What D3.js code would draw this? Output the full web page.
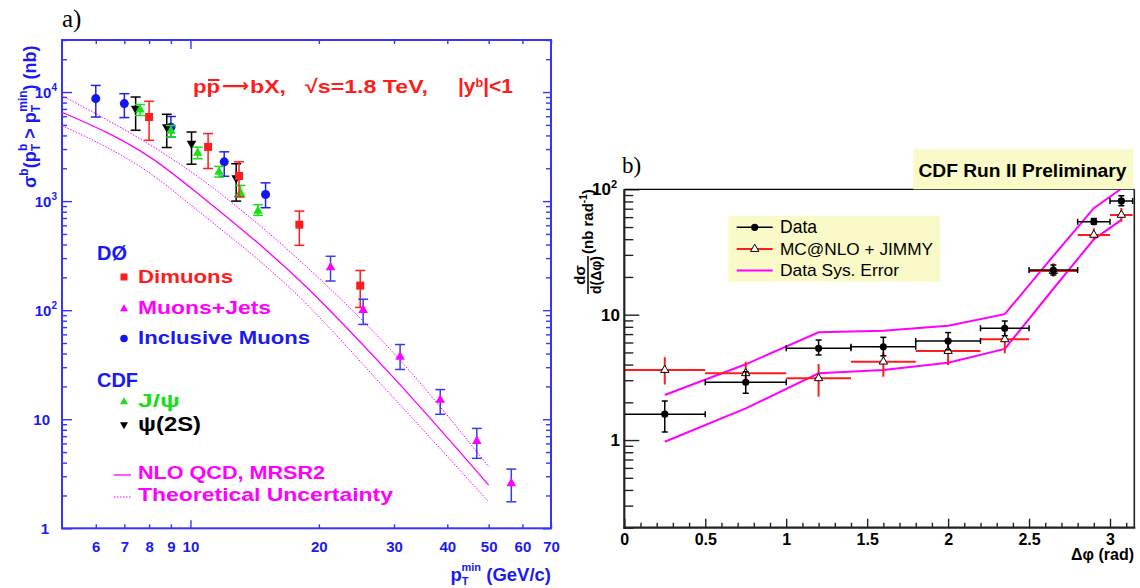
<!DOCTYPE html>
<html>
<head>
<meta charset="utf-8">
<script src="https://cdn.jsdelivr.net/npm/d3@7"></script>
<style>
  body { margin: 0; background: #fff; }
  svg { display: block; }
</style>
</head>
<body>
<svg id="chart" width="1140" height="588"></svg>
<script>
// ================= panel a) : integrated b-quark cross section =================
const xTickVals   = [6, 7, 8, 9, 10, 20, 30, 40, 50, 60, 70];
const xTickLabels = ["6", "7", "8", "9", "10", "20", "30", "40", "50", "60", "70"];
const yDecades    = [1, 10, 100, 1000, 10000];

// D0 dimuons
const dimuons = [
  {pt: 8.0,  v: 5900, lo: 3610, hi: 8220},
  {pt: 11.0, v: 3140, lo: 1990, hi: 4160},
  {pt: 13.0, v: 1700, lo: 1100, hi: 2290},
  {pt: 18.0, v: 608,  lo: 393,  hi: 810},
  {pt: 25.0, v: 168,  lo: 106,  hi: 231}
];
// D0 muons + jets
const muonsJets = [
  {pt: 21.3, v: 246,  lo: 185,  hi: 312},
  {pt: 25.4, v: 100,  lo: 74,   hi: 126},
  {pt: 31.0, v: 37.3, lo: 28.6, hi: 48.4},
  {pt: 38.5, v: 15.0, lo: 11.1, hi: 18.7},
  {pt: 46.9, v: 6.3,  lo: 4.38, hi: 8.24},
  {pt: 56.5, v: 2.58, lo: 1.75, hi: 3.49}
];
// D0 inclusive muons
const inclusiveMuons = [
  {pt: 6.0,  v: 8700, lo: 5900, hi: 11500},
  {pt: 7.0,  v: 7830, lo: 5830, hi: 9660},
  {pt: 9.0,  v: 4760, lo: 3860, hi: 5970},
  {pt: 12.0, v: 2290, lo: 1690, hi: 2830},
  {pt: 15.0, v: 1150, lo: 870,  hi: 1470}
];
// CDF J/psi
const jpsi = [
  {pt: 7.62,  v: 6900, lo: 6100, hi: 7690},
  {pt: 9.0,   v: 4400, lo: 3860, hi: 4930},
  {pt: 10.4,  v: 2760, lo: 2445, hi: 3125},
  {pt: 11.67, v: 1850, lo: 1660, hi: 2080},
  {pt: 13.1,  v: 1190, lo: 1089, hi: 1393},
  {pt: 14.4,  v: 810,  lo: 740,  hi: 927}
];
// CDF psi(2S)
const psi2s = [
  {pt: 7.44,  v: 7050, lo: 4460, hi: 9000},
  {pt: 8.8,   v: 4780, lo: 3100, hi: 6250},
  {pt: 10.06, v: 3370, lo: 2180, hi: 4300},
  {pt: 12.8,  v: 1630, lo: 1000, hi: 2200}
];
// NLO QCD (MRSR2) prediction and its uncertainty band
const nloPt      = [5, 8.04, 10.9, 18, 29.3, 50];
const nloCentral = [6530, 2530, 1015, 188, 26.3, 2.49];
const nloUpPt    = [5, 10.7, 18, 31, 50];
const nloUp      = [9290, 1549, 287, 34.8, 3.67];
const nloDownPt  = [5, 8.48, 9.71, 18, 29.3, 50];
const nloDown    = [4930, 1549, 1015, 132, 17.2, 1.75];

// ================= panel b) : b-bbar azimuthal correlation =================
const dphiTicks  = [0, 0.5, 1, 1.5, 2, 2.5, 3];
const dphiLabels = ["0", "0.5", "1", "1.5", "2", "2.5", "3"];
const binLo   = [0, 0.5, 1.0, 1.4, 1.8, 2.2, 2.5, 2.8, 3.0];
const binHi   = [0.5, 1.0, 1.4, 1.8, 2.2, 2.5, 2.8, 3.0, 3.14];
const dphi    = [0.25, 0.75, 1.2, 1.6, 2.0, 2.35, 2.65, 2.9, 3.07];
const dataXs  = [1.61, 2.89, 5.39, 5.55, 6.17, 7.79, 22.7, 55.2, 80.8];
const dataLo  = [1.16, 2.36, 4.77, 4.7, 5.25, 6.8, 20.7, 52.7, 73.8];
const dataHi  = [2.05, 3.51, 6.28, 6.6, 7.2, 8.9, 24.9, 58.4, 88.7];
const mcXs    = [3.62, 3.41, 3.11, 4.22, 5.13, 6.36, 22.3, 43.3, 62.5];
const mcLo    = [2.78, 2.85, 2.22, 3.2, 3.97, 4.92, 20.1, 39.5, 55];
const mcHi    = [4.57, 4.21, 4.04, 5.0, 5.83, 7.14, 25.7, 48.9, 71];
const sysUp   = [2.29, 4.02, 7.24, 7.45, 8.17, 10.1, 29.4, 70.7, 101];
const sysDown = [0.97, 1.79, 3.41, 3.62, 4.14, 5.33, 16.1, 39.9, 57];

// ---------------------------------------------------------------------------
const svg = d3.select("#chart");
const SANS  = "'Liberation Sans', Arial, Helvetica, sans-serif";
const SERIF = "'Liberation Serif', 'Times New Roman', serif";
const BLUE = "#3535ff", TBLUE = "#1a1af5", RED = "#ff1c1c", MAG = "#ff00ff",
      GREEN = "#19e019", BLACK = "#000";

const isDecade = v => Math.abs(Math.log10(v) - Math.round(Math.log10(v))) < 1e-6;

// scale a text's font size so that it spans the given width
function fitWidth(sel, w) {
  const cur = sel.node().getComputedTextLength();
  const fs = parseFloat(sel.attr("font-size"));
  sel.attr("font-size", (fs * w / cur).toFixed(2));
  return sel;
}
// stretch a plain string to the given width, keeping its font size
function stretch(sel, w) {
  return sel.attr("textLength", w).attr("lengthAdjust", "spacingAndGlyphs");
}

// =========================== panel a) =====================================
const xA = d3.scaleLog().domain([5, 70]).range([62, 551]);
const yA = d3.scaleLog().domain([1, 3e4]).range([528.3, 40]);
const [aL, aR] = xA.range(), [aB, aT] = yA.range();
const gA = svg.append("g");

gA.append("text").attr("x", 62).attr("y", 27).attr("font-family", SERIF)
  .attr("font-size", 25).text("a)");

// axes
const yTickVals = [];
for (let e = 0; e <= 4; e++) for (let k = 1; k <= 9; k++) { const v = k * 10 ** e; if (v <= 3e4) yTickVals.push(v); }

gA.append("g").attr("transform", `translate(${aL},0)`)
  .call(d3.axisLeft(yA).tickValues(yTickVals).tickFormat("").tickSize(-5))
  .call(g => { g.select(".domain").remove();
    g.selectAll(".tick line").attr("stroke", BLUE).attr("stroke-width", 1.4)
      .attr("x2", d => isDecade(d) ? 10 : 5); });
gA.append("g").attr("transform", `translate(${aR},0)`)
  .call(d3.axisRight(yA).tickValues(yTickVals).tickFormat("").tickSize(-5))
  .call(g => { g.select(".domain").remove();
    g.selectAll(".tick line").attr("stroke", BLUE).attr("stroke-width", 1.4)
      .attr("x2", d => isDecade(d) ? -8 : -5); });
gA.append("g").attr("transform", `translate(0,${aB})`)
  .call(d3.axisBottom(xA).tickValues(xTickVals)
        .tickFormat((d, i) => xTickLabels[i]).tickSize(-4).tickPadding(13))
  .call(g => { g.select(".domain").remove();
    g.selectAll(".tick line").attr("stroke", BLUE).attr("stroke-width", 1.4)
      .attr("y2", d => d === 10 ? -8 : -4);
    g.selectAll(".tick text").attr("fill", TBLUE).attr("font-family", SANS)
      .attr("font-weight", "bold").attr("font-size", 15); });
gA.append("g").attr("transform", `translate(0,${aT})`)
  .call(d3.axisTop(xA).tickValues(xTickVals).tickFormat("").tickSize(-4))
  .call(g => { g.select(".domain").remove();
    g.selectAll(".tick line").attr("stroke", BLUE).attr("stroke-width", 1.4)
      .attr("y2", d => d === 10 ? 9 : 4); });

gA.append("rect").attr("x", aL).attr("y", aT).attr("width", aR - aL).attr("height", aB - aT)
  .attr("fill", "none").attr("stroke", BLUE).attr("stroke-width", 2);

// y tick labels 1, 10, 10^2 ...
yDecades.forEach(v => {
  const e = Math.round(Math.log10(v));
  const t = gA.append("text").attr("y", yA(v) + 5.5).attr("text-anchor", "end")
    .attr("fill", TBLUE).attr("font-family", SANS).attr("font-weight", "bold").attr("font-size", 15);
  if (e === 0) t.attr("x", 49).text("1");
  else if (e === 1) t.attr("x", 50).text("10");
  else {
    t.attr("x", 57);
    t.append("tspan").text("10");
    t.append("tspan").attr("dy", -7).attr("font-size", 10).text(String(e));
  }
});

// axis titles
const ytA = gA.append("text").attr("transform", "translate(36,188) rotate(-90)")
  .attr("fill", TBLUE).attr("font-family", SANS).attr("font-weight", "bold").attr("font-size", 18);
ytA.append("tspan").text("σ");
ytA.append("tspan").attr("dy", -8).attr("font-size", 12).text("b");
ytA.append("tspan").attr("dy", 8).text("(p");
ytA.append("tspan").attr("dy", 4).attr("font-size", 12).text("T");
ytA.append("tspan").attr("dx", -7).attr("dy", -13).attr("font-size", 12).text("b");
ytA.append("tspan").attr("dy", 9).text(" > p");
ytA.append("tspan").attr("dy", 4).attr("font-size", 12).text("T");
ytA.append("tspan").attr("dx", -7).attr("dy", -13).attr("font-size", 12).text("min");
ytA.append("tspan").attr("dy", 9).text(") (nb)");

const xtA = gA.append("text").attr("x", 551).attr("y", 581).attr("text-anchor", "end")
  .attr("fill", TBLUE).attr("font-family", SANS).attr("font-weight", "bold").attr("font-size", 18.5);
xtA.append("tspan").text("p");
xtA.append("tspan").attr("dy", 4).attr("font-size", 11).text("T");
xtA.append("tspan").attr("dx", -7).attr("dy", -14).attr("font-size", 11).text("min");
xtA.append("tspan").attr("dy", 10).text(" (GeV/c)");

// theory curves
const plotA = gA.append("g");
function theory(ptArr, vArr, dash, width) {
  const line = d3.line().x(i => xA(ptArr[i])).y(i => yA(vArr[i])).curve(d3.curveMonotoneX);
  plotA.append("path").attr("d", line(d3.range(ptArr.length)))
    .attr("fill", "none").attr("stroke", MAG).attr("stroke-width", width)
    .attr("stroke-dasharray", dash);
}
theory(nloUpPt, nloUp, "1.5,1.5", 1);
theory(nloDownPt, nloDown, "1.5,1.5", 1);
theory(nloPt, nloCentral, null, 1.3);

// data series with vertical error bars
const sym = (type, size) => d3.symbol().type(type).size(size)();
function series(data, color, errColor, type, size, rot) {
  const g = plotA.append("g");
  data.forEach(d => {
    const x = xA(d.pt), y1 = yA(d.lo), y2 = yA(d.hi);
    g.append("line").attr("x1", x).attr("x2", x).attr("y1", y1).attr("y2", y2)
      .attr("stroke", errColor).attr("stroke-width", 1.5);
    [y1, y2].forEach(yy => g.append("line").attr("x1", x - 5).attr("x2", x + 5)
      .attr("y1", yy).attr("y2", yy).attr("stroke", errColor).attr("stroke-width", 1.5));
    g.append("path").attr("d", sym(type, size))
      .attr("transform", `translate(${x},${yA(d.v)}) rotate(${rot})`).attr("fill", color);
  });
}
series(inclusiveMuons, "#1515f0", "#2020f0", d3.symbolCircle, 64, 0);
series(psi2s, BLACK, BLACK, d3.symbolTriangle, 40, 180);
series(jpsi, GREEN, GREEN, d3.symbolTriangle, 40, 0);
series(dimuons, RED, RED, d3.symbolSquare, 64, 0);
series(muonsJets, MAG, "#3a3aee", d3.symbolTriangle, 40, 0);

// process annotation
const annG = gA.append("g").attr("fill", RED).attr("font-family", SANS).attr("font-weight", "bold");
const annPP = stretch(annG.append("text").attr("x", 193).attr("y", 93).attr("font-size", 19).text("pp"), 27);
stretch(annG.append("text").attr("x", 222).attr("y", 92).attr("font-size", 19)
  .attr("font-family", "'DejaVu Sans', sans-serif").text("⟶"), 27);
stretch(annG.append("text").attr("x", 250).attr("y", 93).attr("font-size", 19).text("bX,"), 36);
stretch(annG.append("text").attr("x", 305).attr("y", 93).attr("font-size", 19).text("√s=1.8 TeV,"), 123);
const annY = annG.append("text").attr("x", 458).attr("y", 93).attr("font-size", 19);
annY.append("tspan").text("|y");
annY.append("tspan").attr("dy", "-0.45em").attr("font-size", "60%").text("b");
annY.append("tspan").attr("dy", "0.27em").text("|<1");
fitWidth(annY, 55);
{ // bar over the antiproton
  const e = annPP.node().getExtentOfChar(1);
  annG.append("line").attr("x1", e.x + 1.5).attr("x2", e.x + e.width - 0.5)
    .attr("y1", e.y + 4).attr("y2", e.y + 4).attr("stroke", RED).attr("stroke-width", 2);
}

// legend
const legA = gA.append("g").attr("font-family", SANS).attr("font-weight", "bold");
function legText(x, y, w, color, str, fs) {
  return stretch(legA.append("text").attr("x", x).attr("y", y).attr("fill", color)
    .attr("font-size", fs || 19).text(str), w);
}
legText(97, 260, 30, TBLUE, "DØ", 21);
legA.append("path").attr("d", sym(d3.symbolSquare, 49)).attr("transform", "translate(124,277)").attr("fill", RED);
legText(138, 283, 95, RED, "Dimuons");
legA.append("path").attr("d", sym(d3.symbolTriangle, 28)).attr("transform", "translate(124,309)").attr("fill", MAG);
legText(138, 313.5, 133, MAG, "Muons+Jets");
legA.append("path").attr("d", sym(d3.symbolCircle, 45)).attr("transform", "translate(124,338.5)").attr("fill", "#1515f0");
legText(138, 343.5, 172, TBLUE, "Inclusive Muons");
legText(97, 387, 41, TBLUE, "CDF", 20);
legA.append("path").attr("d", sym(d3.symbolTriangle, 28)).attr("transform", "translate(124,402)").attr("fill", GREEN);
legText(138, 407, 42, GREEN, "J/ψ");
legA.append("path").attr("d", sym(d3.symbolTriangle, 28)).attr("transform", "translate(124,424.5) rotate(180)").attr("fill", BLACK);
legText(138, 431, 63, BLACK, "ψ(2S)", 20);
legA.append("line").attr("x1", 114).attr("x2", 131).attr("y1", 475).attr("y2", 475).attr("stroke", MAG).attr("stroke-width", 1.3);
legText(138, 479, 187, MAG, "NLO QCD, MRSR2");
legA.append("line").attr("x1", 114).attr("x2", 131).attr("y1", 497).attr("y2", 497).attr("stroke", MAG).attr("stroke-width", 1).attr("stroke-dasharray", "1.5,1.5");
legText(138, 501, 255, MAG, "Theoretical Uncertainty");

// =========================== panel b) =====================================
const xB = d3.scaleLinear().domain([0, 3.15]).range([624.3, 1134.3]);
const yB = d3.scaleLog().domain([0.2, 100]).range([527.7, 189.3]);
const [bL, bR] = xB.range(), [bB, bT] = yB.range();
const gB = svg.append("g").attr("font-family", SANS);
const AX = "#222";

gB.append("text").attr("x", 622).attr("y", 173).attr("font-family", SERIF)
  .attr("font-size", 23).text("b)");

const clip = gB.append("clipPath").attr("id", "clipB");
clip.append("rect").attr("x", bL).attr("y", bT).attr("width", bR - bL).attr("height", bB - bT);
const plotB = gB.append("g").attr("clip-path", "url(#clipB)");

// systematic band edges
const sysLine = arr => d3.line().x((d, i) => xB(dphi[i])).y(d => yB(d))(arr);
[sysUp, sysDown].forEach(arr => plotB.append("path").attr("d", sysLine(arr))
  .attr("fill", "none").attr("stroke", MAG).attr("stroke-width", 2));

// MC@NLO + JIMMY
dphi.forEach((x, i) => {
  plotB.append("line").attr("x1", xB(binLo[i])).attr("x2", xB(binHi[i]))
    .attr("y1", yB(mcXs[i])).attr("y2", yB(mcXs[i])).attr("stroke", RED).attr("stroke-width", 2);
  plotB.append("line").attr("x1", xB(x)).attr("x2", xB(x))
    .attr("y1", yB(mcLo[i])).attr("y2", yB(mcHi[i])).attr("stroke", RED).attr("stroke-width", 2);
});
dphi.forEach((x, i) => plotB.append("path").attr("d", sym(d3.symbolTriangle, 30))
  .attr("transform", `translate(${xB(x)},${yB(mcXs[i])})`)
  .attr("fill", "#fff").attr("stroke", BLACK).attr("stroke-width", 1));

// data
dphi.forEach((x, i) => {
  const g = plotB.append("g").attr("stroke", BLACK).attr("stroke-width", 1.5);
  const y = yB(dataXs[i]), x1 = xB(binLo[i]), x2 = xB(binHi[i]);
  g.append("line").attr("x1", x1).attr("x2", x2).attr("y1", y).attr("y2", y);
  [x1, x2].forEach(xx => g.append("line").attr("x1", xx).attr("x2", xx).attr("y1", y - 3).attr("y2", y + 3));
  const ya = yB(dataLo[i]), yb = yB(dataHi[i]), cx = xB(x);
  g.append("line").attr("x1", cx).attr("x2", cx).attr("y1", ya).attr("y2", yb);
  [ya, yb].forEach(yy => g.append("line").attr("x1", cx - 3).attr("x2", cx + 3).attr("y1", yy).attr("y2", yy));
  plotB.append("circle").attr("cx", cx).attr("cy", y).attr("r", 3.6).attr("fill", BLACK);
});

// axes
const yTickB = [];
for (let e = -1; e <= 1; e++) for (let k = 1; k <= 9; k++) { const v = +(k * 10 ** e).toPrecision(3); if (v >= 0.2) yTickB.push(v); }
yTickB.push(100);
gB.append("g").attr("transform", `translate(${bL},0)`)
  .call(d3.axisLeft(yB).tickValues(yTickB).tickFormat("").tickSize(-9))
  .call(g => { g.select(".domain").remove();
    g.selectAll(".tick line").attr("stroke", AX).attr("stroke-width", 1.4)
      .attr("x2", d => isDecade(d) ? 15 : 9); });
const xMinorB = d3.range(0, 32).map(i => +(i / 10).toFixed(1));
gB.append("g").attr("transform", `translate(0,${bB})`)
  .call(d3.axisBottom(xB).tickValues(xMinorB).tickSize(-5)
        .tickFormat(d => { const j = dphiTicks.indexOf(d); return j >= 0 ? dphiLabels[j] : ""; })
        .tickPadding(6))
  .call(g => { g.select(".domain").remove();
    g.selectAll(".tick line").attr("stroke", AX).attr("stroke-width", 1.4)
      .attr("y2", d => dphiTicks.includes(d) ? -9 : -5);
    g.selectAll(".tick text").attr("fill", BLACK).attr("font-family", SANS)
      .attr("font-weight", "bold").attr("font-size", 16); });

// frame
gB.append("line").attr("x1", bL).attr("x2", bR).attr("y1", bT).attr("y2", bT).attr("stroke", BLACK).attr("stroke-width", 1.2);
gB.append("line").attr("x1", bR).attr("x2", bR).attr("y1", bT).attr("y2", bB).attr("stroke", AX).attr("stroke-width", 1.6);
gB.append("line").attr("x1", bL).attr("x2", bL).attr("y1", bT).attr("y2", bB + 1).attr("stroke", AX).attr("stroke-width", 2.2);
gB.append("line").attr("x1", bL - 1).attr("x2", bR + 1).attr("y1", bB).attr("y2", bB).attr("stroke", AX).attr("stroke-width", 2.2);

// y tick labels
[[100, 617, "10", "2"], [10, 620, "10", null], [1, 620, "1", null]].forEach(([v, x, base, sup]) => {
  const t = gB.append("text").attr("x", x).attr("y", yB(v) + 6).attr("text-anchor", "end")
    .attr("font-weight", "bold").attr("font-size", 17);
  t.append("tspan").text(base);
  if (sup) t.append("tspan").attr("dy", -7).attr("font-size", 11).text(sup);
});

// axis titles
gB.append("text").attr("x", 1134).attr("y", 560).attr("text-anchor", "end")
  .attr("font-weight", "bold").attr("font-size", 16).text("Δφ (rad)");
const yt = gB.append("g").attr("transform", "translate(588,275) rotate(-90)")
  .attr("font-weight", "bold");
yt.append("text").attr("x", 0).attr("y", -3).attr("text-anchor", "middle").attr("font-size", 15).text("dσ");
yt.append("text").attr("x", 0).attr("y", 13).attr("text-anchor", "middle").attr("font-size", 14).text("d(Δφ)");
yt.append("line").attr("x1", -19).attr("x2", 19).attr("y1", 0).attr("y2", 0).attr("stroke", BLACK).attr("stroke-width", 1.5);
const ytt = yt.append("text").attr("x", 21).attr("y", 5).attr("font-size", 15);
ytt.append("tspan").text("(nb rad");
ytt.append("tspan").attr("dy", -6).attr("font-size", 10).text("-1");
ytt.append("tspan").attr("dy", 6).text(")");

// "CDF Run II Preliminary" banner
gB.append("rect").attr("x", 913.3).attr("y", 149.3).attr("width", 220).attr("height", 40).attr("fill", "#fafac8");
fitWidth(gB.append("text").attr("x", 918.5).attr("y", 176.5).attr("font-weight", "bold")
  .attr("font-size", 17).text("CDF Run II Preliminary"), 208);

// legend
const lg = gB.append("g");
lg.append("rect").attr("x", 728.3).attr("y", 216).attr("width", 211.7).attr("height", 65.7).attr("fill", "#fafac8");
const legRows = [
  {y: 227.3, label: "Data", w: 37},
  {y: 249, label: "MC@NLO + JIMMY", w: 153},
  {y: 270.5, label: "Data Sys. Error", w: 119}
];
lg.append("line").attr("x1", 736.7).attr("x2", 772.7).attr("y1", legRows[0].y).attr("y2", legRows[0].y).attr("stroke", BLACK).attr("stroke-width", 1.5);
lg.append("circle").attr("cx", 754.7).attr("cy", legRows[0].y).attr("r", 3.6).attr("fill", BLACK);
lg.append("line").attr("x1", 736.7).attr("x2", 772.7).attr("y1", legRows[1].y).attr("y2", legRows[1].y).attr("stroke", RED).attr("stroke-width", 2);
lg.append("path").attr("d", sym(d3.symbolTriangle, 30)).attr("transform", `translate(754.7,${legRows[1].y})`)
  .attr("fill", "#fff").attr("stroke", BLACK).attr("stroke-width", 1);
lg.append("line").attr("x1", 736.7).attr("x2", 772.7).attr("y1", legRows[2].y).attr("y2", legRows[2].y).attr("stroke", MAG).attr("stroke-width", 2);
legRows.forEach(r => fitWidth(lg.append("text").attr("x", 780).attr("y", r.y + 5.5)
  .attr("font-size", 16).text(r.label), r.w));
</script>
</body>
</html>
